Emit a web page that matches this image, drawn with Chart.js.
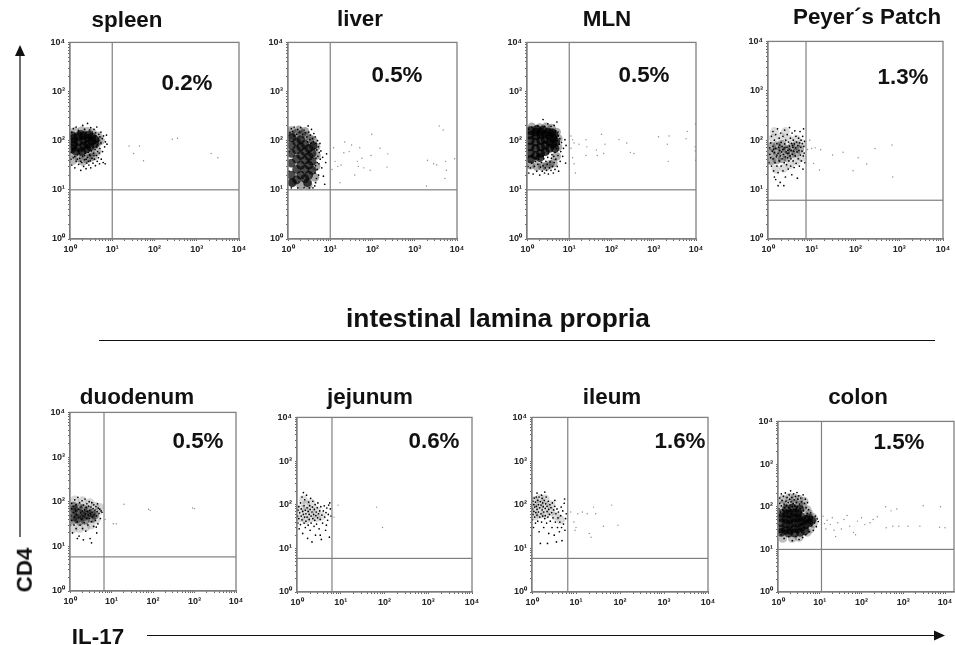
<!DOCTYPE html>
<html>
<head>
<meta charset="utf-8">
<title>IL-17 CD4 flow panels</title>
<script src="https://cdn.jsdelivr.net/npm/chart.js@4"></script>
<style>
  html, body { margin: 0; background: #fff; }
  body { width: 955px; height: 645px; position: relative; overflow: hidden; font-family: "Liberation Sans", Arial, sans-serif; color: #111; }
  canvas { position: absolute; filter: blur(0.45px); }
  .txt { position: absolute; font-weight: bold; font-size: 22.4px; line-height: 1; white-space: nowrap; transform: translate(-50%, -50%); filter: blur(0.4px); }
  svg { position: absolute; left: 0; top: 0; }
</style>
</head>
<body>
<svg width="955" height="645">
  <line x1="99" y1="340.5" x2="935" y2="340.5" stroke="#111" stroke-width="1"/>
  <line x1="20" y1="56" x2="20" y2="537" stroke="#333" stroke-width="1.4"/>
  <polygon points="20,45 15,56 25,56" fill="#111"/>
  <line x1="147" y1="635.5" x2="936" y2="635.5" stroke="#111" stroke-width="1.2"/>
  <polygon points="945,635.5 934,630.5 934,640.5" fill="#111"/>
</svg>
<script>
const panelNames = ["spleen", "liver", "MLN", "Peyer´s Patch", "duodenum", "jejunum", "ileum", "colon"];
const percents = ["0.2%", "0.5%", "0.5%", "1.3%", "0.5%", "0.6%", "1.6%", "1.5%"];
const tickLabels = ["10⁰", "10¹", "10²", "10³", "10⁴"];
const gateX = [10, 10, 10, 7.4, 6.6, 6.3, 6.5, 11];
const gateY = [10, 10, 10, 6.1, 5.8, 5.9, 5.9, 10];
const xMaxValues = [10000, 10000, 10000, 10000, 10000, 10000, 10000, 16400];

const spleenCore = [[1.2,80],[1.2,110],[1.25,95],[1.6,72],[1.6,95],[1.6,122],[2.1,78],[2.1,100],[2.1,125],[2.6,85],[2.6,112],[3.3,98],[3.3,118],[1.35,62],[2.5,68],[3.9,105],[1.15,125],[1.8,135],[2.8,130],[1.1,68],[1.9,60],[3,75],[3.9,85]];
const spleenHaze = [[1.2,40],[1.6,45],[2,38],[2.5,42],[3,45],[3.6,48],[1.3,155],[1.9,160],[2.6,155],[3.4,145],[4.5,90],[4.6,125],[4.4,60],[1.25,55],[2,55],[3,58],[5.3,100]];
const spleenDots = [[1.1,32],[1.2,45],[1.3,28],[1.4,38],[1.5,52],[1.6,33],[1.7,44],[1.8,25],[1.9,36],[2,48],[2.1,30],[2.2,41],[2.3,55],[2.4,27],[2.5,35],[2.6,46],[2.8,32],[2.9,52],[3,39],[3.1,28],[3.3,44],[3.5,35],[3.6,55],[3.8,42],[4,31],[4.2,50],[4.4,38],[4.7,45],[5,34],[5.5,42],[6.1,36],[6.8,34],[1.1,150],[1.2,175],[1.3,135],[1.4,190],[1.6,160],[1.8,145],[2,205],[2.2,170],[2.4,150],[2.6,225],[2.9,165],[3.1,185],[3.4,150],[3.7,170],[4,145],[4.3,190],[4.8,135],[5.1,120],[5.4,150],[5.8,110],[6.2,125],[6.9,95],[7.3,130],[6.6,75],[7.5,85],[5.9,60],[5.4,90],[5.1,70],[4.8,100],[4.5,60],[4.2,75],[1.05,58],[1.3,48],[1.15,66],[1.7,56],[1.9,62],[2.2,50],[2.7,58],[3.2,62],[3.5,72],[3.9,66],[4.4,82],[4.6,112],[4.1,125],[1.5,42],[2.4,42],[3,50],[1.05,125],[1.05,42],[1.02,85],[1.8,38],[2.7,38],[3.7,50],[4.9,56]];
const spleenFaint = [[25,78],[44,78],[32,55],[55,39],[263,107],[350,112],[2190,55],[3160,45]];

const liverCore = [[1.2,20],[1.2,35],[1.2,55],[1.2,80],[1.25,115],[1.6,16],[1.6,26],[1.6,42],[1.6,65],[1.6,95],[2,20],[2,32],[2,50],[2,75],[2,105],[2.5,17],[2.5,26],[2.5,40],[2.5,60],[2.5,85],[3.1,20],[3.1,32],[3.1,48],[3.1,70],[3.7,25],[3.7,38],[3.7,55],[3.9,78],[1.25,14],[2.9,14]];
const liverHaze = [[1.2,130],[1.6,140],[2.1,135],[2.7,125],[3.3,110],[3.9,100],[4.6,75],[4.7,50],[4.6,30],[4.3,18],[1.3,14],[2,12.5],[3,12.5],[1.2,160],[1.8,165],[2.5,155]];
const liverDots = [[1.1,145],[1.2,175],[1.3,155],[1.4,190],[1.6,135],[1.7,170],[1.9,150],[2,185],[2.2,135],[2.4,165],[2.6,145],[2.8,120],[3,200],[3.1,150],[3.3,105],[3.4,130],[3.6,170],[3.8,110],[4,95],[4.1,140],[4.4,120],[4.6,88],[4.8,65],[5,100],[5.1,48],[5.2,75],[5.4,34],[5.5,58],[5.7,88],[4.9,26],[4.7,17],[4.3,12],[5.3,20],[5.8,42],[6,62],[6.3,28],[6.6,46],[6.9,19],[7.4,13],[7.8,36],[8.2,54],[3.9,11],[3.2,11],[2.4,11],[1.7,11],[1.2,11],[4.5,14],[4.4,22],[4.5,31],[4.6,44],[1.05,24],[1.05,60],[1.05,100],[1.05,130],[1.4,125],[2.9,95],[3.5,88],[4.2,70],[4.9,36]];
const liverFaint = [[12,72],[13,38],[11,26],[15,30],[17,14],[18,32],[22,94],[21,57],[28,60],[32,82],[38,20],[44,38],[46,30],[50,72],[56,44],[62,28],[96,135],[92,50],[88,25],[150,70],[230,54],[220,29],[1900,12],[2000,40],[2800,34],[3300,32],[3800,200],[5400,38],[5600,25],[5200,17],[8800,43],[4700,165]];

const mlnCore = [[1.2,55],[1.2,75],[1.2,100],[1.2,130],[1.6,50],[1.6,70],[1.6,95],[1.6,125],[1.6,150],[2.1,55],[2.1,75],[2.1,100],[2.1,130],[2.1,150],[2.7,60],[2.7,80],[2.7,105],[2.7,135],[3.4,70],[3.4,95],[3.4,125],[4.1,85],[4.1,110],[4.4,130],[1.25,42],[4.8,95],[4.6,70],[1.2,160],[1.7,170],[2.4,165],[3.2,150],[3.9,145],[2,45]];
const mlnHaze = [[1.2,32],[1.7,30],[2.3,30],[2.9,30],[3.5,33],[4.2,35],[5,48],[5.4,75],[5.5,110],[5,150],[1.3,190],[2,185],[2.8,190],[3.8,180]];
const mlnDots = [[1.1,22],[1.2,28],[1.3,35],[1.4,21],[1.5,30],[1.6,38],[1.7,24],[1.8,33],[1.9,42],[2,20],[2.1,29],[2.2,36],[2.3,24],[2.4,31],[2.5,43],[2.6,22],[2.7,28],[2.8,38],[2.9,25],[3,33],[3.1,46],[3.2,21],[3.4,28],[3.5,37],[3.7,25],[3.8,44],[4,30],[4.2,22],[4.4,36],[4.6,26],[4.8,42],[5.2,30],[5.6,24],[1.1,170],[1.3,190],[1.5,165],[1.8,200],[2.1,180],[2.4,270],[2.6,195],[2.9,170],[3.1,220],[3.4,160],[3.7,195],[4,165],[4.4,205],[4.8,160],[5.1,240],[5.4,150],[4.9,120],[5.2,100],[5.5,125],[5.8,85],[6,110],[6.3,60],[6.6,92],[7,48],[7.3,70],[7.9,105],[8.2,35],[8.4,80],[5,70],[4.6,58],[5.4,50],[6.1,38],[3.9,52],[3.2,55],[1.05,45],[1.05,30],[1.6,44],[2.4,48],[4.3,48],[1.3,47]];
const mlnFaint = [[11,125],[12,105],[11,70],[12,45],[13,90],[14,22],[13,34],[17,85],[25,105],[26,75],[25,50],[44,65],[46,50],[58,135],[70,85],[65,55],[150,105],[230,90],[280,58],[340,55],[1300,120],[2100,85],[2300,125],[2200,38],[5800,110],[6200,155],[9500,75],[9700,220],[9800,40],[9600,62]];

const peyerCore = [[1.2,38],[1.2,55],[1.2,75],[1.6,40],[1.6,58],[1.6,78],[2.1,42],[2.1,60],[2.1,82],[2.7,45],[2.7,65],[3.4,52],[3.4,72],[4.3,55],[4.3,78],[5.3,65]];
const peyerHaze = [[1.3,110],[2,115],[3,105],[4.5,105],[6,85],[1.5,26],[2.3,27],[3.2,32],[4.5,38],[6,45],[1.4,150],[2.5,150]];
const peyerDots = [[1.05,35],[1.1,52],[1.1,70],[1.15,88],[1.2,30],[1.2,120],[1.25,60],[1.3,42],[1.3,75],[1.3,150],[1.35,24],[1.4,56],[1.4,100],[1.45,35],[1.5,16],[1.5,68],[1.5,130],[1.55,46],[1.6,30],[1.6,85],[1.65,170],[1.7,54],[1.7,22],[1.75,72],[1.8,110],[1.8,38],[1.85,62],[1.9,14],[1.9,48],[1.95,140],[2,30],[2,90],[2.05,58],[2.1,42],[2.1,75],[2.2,24],[2.2,120],[2.25,52],[2.3,66],[2.35,35],[2.4,160],[2.4,84],[2.5,46],[2.5,18],[2.55,100],[2.6,58],[2.65,32],[2.7,72],[2.75,130],[2.8,44],[2.85,62],[2.9,26],[2.95,92],[3,55],[3,38],[3.1,180],[3.1,76],[3.2,48],[3.25,110],[3.3,30],[3.4,62],[3.45,86],[3.5,20],[3.55,140],[3.6,52],[3.7,72],[3.75,38],[3.8,100],[3.9,60],[3.95,28],[4,84],[4.1,155],[4.2,48],[4.3,70],[4.35,120],[4.4,34],[4.5,92],[4.6,58],[4.7,17],[4.8,78],[4.9,42],[5,110],[5.1,62],[5.2,30],[5.3,88],[5.4,150],[5.5,50],[5.6,72],[5.7,100],[5.8,38],[6,60],[6.1,85],[6.2,120],[6.3,26],[6.4,48],[6.5,170],[6.6,75],[6.7,55],[6.9,95],[7,35],[1.15,44],[1.35,66],[1.6,50],[1.85,80],[2.15,64],[2.45,70],[2.75,54],[3.05,66],[3.35,42],[3.65,78],[1.7,12],[2.3,12],[1.4,18]];
const peyerFaint = [[9,100],[8,65],[10,68],[12,70],[16,64],[15,25],[11,34],[30,50],[52,57],[88,24],[115,44],[180,33],[280,68],[680,80],[710,18]];

const duoCore = [[1.2,45],[1.2,58],[1.5,42],[1.6,55],[1.9,50],[2.2,46],[2.6,52],[1.25,68],[1.2,80],[1.6,75],[2.1,70],[2.7,65],[3.3,55],[1.2,38],[1.7,36],[2.3,38],[3.3,42],[3.9,50]];
const duoHaze = [[1.2,25],[1.7,25],[2.4,27],[3.2,30],[4.3,40],[4.7,60],[5.2,75],[4,80],[3,95],[2,105],[1.3,110]];
const duoDots = [[1.03,30],[1.05,48],[1.08,70],[1.1,38],[1.1,92],[1.15,20],[1.2,58],[1.2,78],[1.25,30],[1.3,110],[1.3,45],[1.35,62],[1.4,25],[1.4,85],[1.45,52],[1.5,35],[1.55,125],[1.6,68],[1.6,44],[1.65,17],[1.7,95],[1.75,30],[1.8,56],[1.85,76],[1.9,40],[1.95,105],[2,62],[2,25],[2.05,48],[2.1,84],[2.2,34],[2.25,66],[2.3,115],[2.35,52],[2.4,22],[2.45,74],[2.5,42],[2.55,90],[2.6,60],[2.7,30],[2.75,50],[2.8,80],[2.9,100],[2.95,42],[3,64],[3.05,15],[3.1,54],[3.2,76],[3.3,36],[3.35,95],[3.4,58],[3.5,46],[3.6,70],[3.7,28],[3.75,85],[3.85,52],[4,65],[4.1,38],[4.2,78],[4.3,48],[4.4,20],[4.5,60],[4.6,90],[4.7,32],[4.8,72],[5,55],[5.2,68],[5.4,42],[5.6,62],[5.9,58],[1.5,15],[2.1,14],[3.3,12],[4.3,27]];
const duoFaint = [[7,40],[11,32],[20,88],[78,68],[85,64],[900,72],[1000,70],[13,32]];

const jejHaze = [[1.2,50],[1.2,80],[1.6,45],[1.6,70],[1.6,100],[2.1,50],[2.1,75],[2.8,50],[2.8,75],[3.6,55],[1.4,130],[2.1,110]];
const jejDots = [[1.03,55],[1.05,38],[1.05,75],[1.1,90],[1.1,48],[1.12,28],[1.15,65],[1.2,35],[1.2,110],[1.25,55],[1.25,80],[1.3,45],[1.3,150],[1.35,22],[1.35,70],[1.4,60],[1.4,190],[1.45,38],[1.45,95],[1.5,52],[1.5,130],[1.55,30],[1.55,75],[1.6,62],[1.6,42],[1.65,165],[1.7,85],[1.7,52],[1.75,17],[1.8,34],[1.8,70],[1.85,115],[1.9,46],[1.9,60],[1.95,95],[2,26],[2,78],[2.05,140],[2.1,55],[2.1,38],[2.2,68],[2.2,14],[2.25,88],[2.3,48],[2.3,120],[2.4,60],[2.45,32],[2.5,78],[2.55,44],[2.6,100],[2.65,20],[2.7,56],[2.75,68],[2.8,36],[2.9,85],[2.95,50],[3,110],[3.1,62],[3.2,28],[3.3,72],[3.4,46],[3.5,90],[3.6,16],[3.7,58],[3.85,38],[4,72],[4.2,94],[4.3,52],[4.5,26],[4.6,66],[4.8,84],[5,44],[5.2,60],[5.5,18],[5.6,110],[5.8,80],[6,55],[5.3,98],[4.7,34],[3.4,20]];
const jejFaint = [[7,52],[8.7,98],[66,88],[90,30]];

const ileHaze = [[1.15,55],[1.15,85],[1.15,125],[1.5,60],[1.5,95],[1.5,140],[2,60],[2,95],[2,135],[2.7,70],[2.7,100],[3.5,55],[4.5,45]];
const ileDots = [[1.02,45],[1.03,80],[1.05,120],[1.05,60],[1.08,30],[1.1,100],[1.1,70],[1.12,142],[1.15,52],[1.15,88],[1.2,38],[1.2,115],[1.22,66],[1.25,150],[1.25,92],[1.3,58],[1.3,78],[1.3,185],[1.35,42],[1.35,125],[1.4,100],[1.4,68],[1.45,24],[1.45,150],[1.5,85],[1.5,52],[1.55,118],[1.55,13],[1.6,62],[1.6,98],[1.65,40],[1.65,165],[1.7,76],[1.7,140],[1.75,55],[1.75,110],[1.8,90],[1.85,30],[1.85,68],[1.9,125],[1.95,48],[1.95,195],[2,82],[2,56],[2.05,105],[2.1,150],[2.15,38],[2.2,70],[2.2,92],[2.25,13],[2.3,52],[2.35,120],[2.4,22],[2.4,78],[2.5,60],[2.55,100],[2.6,42],[2.7,86],[2.8,66],[2.85,30],[2.9,110],[3,50],[3.1,76],[3.2,20],[3.3,92],[3.4,40],[3.5,62],[3.6,14],[3.7,80],[3.8,30],[3.9,50],[4,68],[4.2,24],[4.3,40],[4.5,56],[4.7,30],[4.8,15],[5,72],[5.2,36],[5.4,108],[5.6,26],[5.8,48],[6,62],[4.6,88],[5.5,135],[3.3,125]];
const ileFaint = [[7.6,68],[9,40],[9.5,26],[11,62],[14,68],[18,62],[25,88],[20,22],[22,18],[28,62],[42,32],[65,98],[90,34],[10,30]];

const colonCore = [[1.2,30],[1.2,42],[1.2,55],[1.5,28],[1.55,40],[1.55,52],[1.9,28],[1.9,38],[1.9,50],[1.9,68],[2.4,30],[2.4,42],[2.4,55],[2.4,72],[3,30],[3,42],[3,55],[3,70],[3.7,33],[3.7,45],[3.7,58],[4.5,38],[4.6,50],[5.5,42],[5.5,55],[6.5,48],[1.2,70],[1.6,70],[1.2,25],[1.8,24],[2.5,24],[3.4,25],[4.4,27],[3.3,88],[2.3,92],[1.6,90]];
const colonHaze = [[1.3,110],[1.3,150],[1.9,120],[1.9,165],[2.5,115],[2.5,160],[3.2,110],[3.2,150],[4,100],[4.2,135],[5,85],[5.6,68],[7,40],[7,55],[6,30],[5,25],[1.3,18],[2.2,18],[3.2,19]];
const colonDots = [[1.05,90],[1.1,120],[1.1,160],[1.15,75],[1.2,105],[1.2,200],[1.25,140],[1.3,85],[1.35,175],[1.4,70],[1.4,115],[1.45,95],[1.5,210],[1.55,135],[1.6,80],[1.6,105],[1.65,165],[1.7,70],[1.75,125],[1.8,95],[1.85,190],[1.9,150],[1.95,110],[2,85],[2,235],[2.05,130],[2.1,70],[2.15,165],[2.2,100],[2.3,120],[2.35,200],[2.4,85],[2.45,145],[2.5,105],[2.6,175],[2.7,88],[2.75,125],[2.85,215],[2.9,100],[3,150],[3.1,80],[3.15,180],[3.3,115],[3.4,90],[3.5,160],[3.6,75],[3.7,130],[3.85,100],[4,190],[4.1,80],[4.3,120],[4.5,150],[4.7,95],[5,70],[5.1,125],[5.4,85],[5.6,60],[5.9,48],[6.1,72],[6.4,36],[6.7,55],[7,28],[7.4,42],[7.8,60],[8.3,34],[8.7,52],[5.2,32],[5.6,26],[4.6,22],[3.9,19],[3.2,17],[2.7,20],[2.2,16],[1.8,20],[1.4,18],[1.2,22],[1.05,25],[9.2,45],[4.9,62],[6,40],[1.02,38],[1.02,58]];
const colonFaint = [[12,60],[13,40],[14,30],[15,48],[18,38],[20,55],[22,28],[24,20],[27,42],[33,30],[38,50],[45,62],[52,35],[64,25],[72,22],[80,46],[100,55],[120,38],[160,42],[190,50],[240,58],[380,100],[390,32],[510,80],[560,35],[700,88],[780,35],[1300,35],[2500,35],[3000,105],[7800,100],[7400,33],[10000,32]];

const coreLists = [spleenCore, liverCore, mlnCore, peyerCore, duoCore, [], [], colonCore];
const hazeLists = [spleenHaze, liverHaze, mlnHaze, peyerHaze, duoHaze, jejHaze, ileHaze, colonHaze];
const dotLists = [spleenDots, liverDots, mlnDots, peyerDots, duoDots, jejDots, ileDots, colonDots];
const faintLists = [spleenFaint, liverFaint, mlnFaint, peyerFaint, duoFaint, jejFaint, ileFaint, colonFaint];

// how dark the dense part of each blob prints
const coreAlpha = [0.7, 0.7, 0.75, 0.32, 0.42, 0, 0, 0.68];
const hazeAlpha = [0.28, 0.35, 0.32, 0.14, 0.16, 0.13, 0.15, 0.25];

// plot rectangles in page pixels: left, top, width, height
const plotBoxes = [[70, 42, 169, 197], [288, 42, 169, 197], [527, 42, 169, 197], [768, 41, 175, 198], [70, 412, 166, 179], [297, 417, 175, 175], [532, 417, 176, 175], [778, 421, 176, 171]];
const titleSpots = [[127, 20], [360, 19], [607, 19], [867, 17], [137, 397], [370, 397], [612, 397], [858, 397]];
const pctSpots = [[187, 83], [397, 75], [644, 75], [903, 77], [198, 441], [434, 441], [680, 441], [899, 442]];

const toPoints = (list) => list.map((p) => ({ x: p[0], y: p[1] }));

const addText = (text, x, y, extra) => {
  const el = document.createElement("div");
  el.className = "txt";
  el.textContent = text;
  el.style.left = x + "px";
  el.style.top = y + "px";
  if (extra) Object.assign(el.style, extra);
  document.body.appendChild(el);
};

// top and right edge of each FACS box
const boxEdge = {
  id: "boxEdge",
  afterDatasetsDraw(chart) {
    const a = chart.chartArea;
    const ctx = chart.ctx;
    ctx.save();
    ctx.strokeStyle = "#808080";
    ctx.lineWidth = 1.3;
    ctx.strokeRect(a.left, a.top, a.width, a.height);
    ctx.restore();
  },
};

const decadeTicks = (scale) => {
  const ticks = [];
  for (let d = 1; d <= 10000; d *= 10) {
    ticks.push({ value: d });
    if (d < 10000) for (let m = 2; m < 10; m++) ticks.push({ value: d * m });
  }
  scale.ticks = ticks;
};

const tickText = (value) => {
  const p = Math.log10(value);
  return Number.isInteger(p) ? tickLabels[p] : "";
};

const axis = (max, fit) => ({
  type: "logarithmic",
  min: 1,
  max: max,
  afterBuildTicks: decadeTicks,
  afterFit: fit,
  border: { color: "#777", width: 1.2 },
  grid: { drawOnChartArea: false, tickLength: 2, color: "#666", tickWidth: 1 },
  ticks: {
    callback: tickText,
    autoSkip: false,
    maxRotation: 0,
    minRotation: 0,
    padding: 3,
    color: "#222",
    font: { family: "Liberation Sans", size: 9, weight: "bold" },
  },
});

panelNames.forEach((name, i) => {
  const [left, top, w, h] = plotBoxes[i];
  const canvas = document.createElement("canvas");
  const padL = 30, padT = 8, padR = 12, padB = 24;
  canvas.width = w + padL + padR;
  canvas.height = h + padT + padB;
  canvas.style.left = left - padL + "px";
  canvas.style.top = top - padT + "px";
  document.body.appendChild(canvas);

  new Chart(canvas, {
    type: "scatter",
    plugins: [boxEdge],
    data: {
      datasets: [
        { data: toPoints(dotLists[i]), pointRadius: 0.85, pointBackgroundColor: "#000", pointBorderWidth: 0, clip: 0, order: 1 },
        { data: toPoints(coreLists[i]), pointRadius: 4.4, pointBackgroundColor: `rgba(0,0,0,${coreAlpha[i]})`, pointBorderWidth: 0, clip: 0, order: 2 },
        { data: toPoints(hazeLists[i]), pointRadius: 4.4, pointBackgroundColor: `rgba(0,0,0,${hazeAlpha[i]})`, pointBorderWidth: 0, clip: 0, order: 3 },
        { data: toPoints(faintLists[i]), pointRadius: 0.7, pointBackgroundColor: "#888", pointBorderWidth: 0, clip: 0, order: 0 },
        { data: [{ x: gateX[i], y: 1 }, { x: gateX[i], y: 10000 }], showLine: true, pointRadius: 0, borderColor: "#808080", borderWidth: 1.2, order: 0 },
        { data: [{ x: 1, y: gateY[i] }, { x: xMaxValues[i], y: gateY[i] }], showLine: true, pointRadius: 0, borderColor: "#666", borderWidth: 1, order: 0 },
      ],
    },
    options: {
      responsive: false,
      animation: false,
      layout: { padding: { top: padT, right: padR, left: 0, bottom: 0 } },
      plugins: { legend: { display: false }, tooltip: { enabled: false } },
      scales: {
        x: axis(xMaxValues[i], (s) => { s.height = padB; }),
        y: axis(10000, (s) => { s.width = padL; }),
      },
    },
  });

  addText(name, titleSpots[i][0], titleSpots[i][1]);
  addText(percents[i], pctSpots[i][0], pctSpots[i][1]);
});

addText("intestinal lamina propria", 498, 318, { fontSize: "26.3px" });
addText("IL-17", 98, 637);
addText("CD4", 25, 570, { transform: "translate(-50%, -50%) rotate(-90deg)" });
</script>
</body>
</html>
